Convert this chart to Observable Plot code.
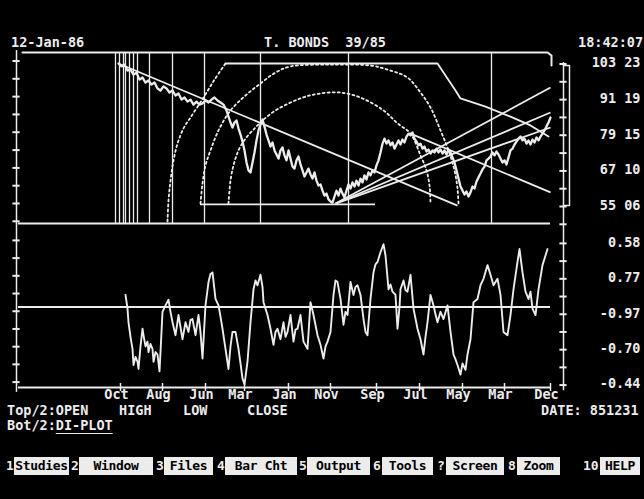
<!DOCTYPE html>
<html><head><meta charset="utf-8">
<script src="https://cdn.jsdelivr.net/npm/d3@7"></script>
<script src="https://cdn.jsdelivr.net/npm/@observablehq/plot@0.6"></script>
<style>
html,body{margin:0;padding:0;background:#000;overflow:hidden;}
#screen{position:relative;width:644px;height:499px;background:#000;overflow:hidden;
  font-family:"DejaVu Sans Mono",monospace;font-weight:bold;color:#ececec;font-size:13.5px;}
.t{position:absolute;white-space:pre;line-height:14px;}
.n{position:absolute;white-space:pre;line-height:18px;height:18px;top:457px;font-size:13px;}
.box{position:absolute;white-space:pre;top:457px;background:#ececec;color:#000;height:18px;line-height:18px;
  font-size:13px;letter-spacing:-0.3px;text-align:center;}
.u{text-decoration:underline;text-underline-offset:3px;}
#top,#bot{position:absolute;left:0;}
#top{top:0;} #bot{top:224px;}
</style></head>
<body><div id="screen">
<div class="t" style="left:11px;top:35px">12-Jan-86</div>
<div class="t" style="left:264px;top:35px">T. BONDS  39/85</div>
<div class="t" style="left:578px;top:35px">18:42:07</div>
<div id="top"></div>
<div id="bot"></div>
<div class="t" style="left:7px;top:403px">Top/2:OPEN</div>
<div class="t" style="left:119px;top:403px">HIGH</div>
<div class="t" style="left:183px;top:403px">LOW</div>
<div class="t" style="left:247px;top:403px">CLOSE</div>
<div class="t" style="left:541px;top:403px">DATE: 851231</div>
<div class="t" style="left:7px;top:418px">Bot/2:<span class="u">DI-PLOT</span></div>
<div class="n" style="left:6px">1</div><div class="box" style="left:14px;width:55px">Studies</div>
<div class="n" style="left:71px">2</div><div class="box" style="left:79px;width:74px">Window</div>
<div class="n" style="left:156px">3</div><div class="box" style="left:164px;width:49px">Files</div>
<div class="n" style="left:217px">4</div><div class="box" style="left:225px;width:72px">Bar Cht</div>
<div class="n" style="left:299px">5</div><div class="box" style="left:307px;width:63px">Output</div>
<div class="n" style="left:373px">6</div><div class="box" style="left:382px;width:51px">Tools</div>
<div class="n" style="left:437px">?</div><div class="box" style="left:446px;width:58px">Screen</div>
<div class="n" style="left:508px">8</div><div class="box" style="left:517px;width:43px">Zoom</div>
<div class="n" style="left:583px">10</div><div class="box" style="left:600px;width:40px">HELP</div>
</div>
<script>
// ---------- data (x = trading-day index, top y = price, bottom y = DI oscillator) ----------
const price = [[52,103.9],[53.5,102.9],[55,103.5],[56.5,101.5],[58,101.8],[59.5,100.1],[61,100.8],[62.5,98.4],[64,99.1],[65.5,97.4],[67,98.1],[68.5,96.7],[70,97.4],[71.5,95.4],[73,94.7],[74.5,96.1],[76,95.4],[77.5,94.0],[79,94.7],[80.5,93.0],[82,93.7],[83.5,91.6],[85,92.3],[86.5,90.9],[88,91.6],[89.5,89.9],[91,90.9],[92.5,89.9],[94,90.3],[95.5,91.3],[97,90.6],[98.5,91.6],[100,92.3],[101.5,91.3],[103,90.6],[104.5,89.9],[106,87.9],[107,85.8],[108,83.8],[109,82.1],[110,83.8],[111,84.5],[112,81.8],[113,79.7],[114,77.3],[115,74.3],[116,70.2],[117,67.5],[118,66.8],[119,70.2],[120,73.6],[121,77.7],[122,81.1],[123,83.1],[124,84.8],[125,82.4],[126,79.7],[127,77.7],[128,75.6],[129,77.0],[130,74.3],[131,72.9],[132,71.5],[133,74.3],[134,75.3],[135,72.6],[136,70.9],[137,74.3],[138,71.5],[139,68.8],[140,68.1],[141,70.9],[142,72.2],[143,69.5],[144,67.5],[145,65.4],[146,66.8],[147,68.1],[148,66.1],[149,64.7],[150,66.8],[151,64.0],[152,62.3],[153,62.7],[154,60.6],[155,58.9],[156,59.6],[157,57.6],[158,56.9],[159,56.5],[160,58.6],[161,60.6],[162,58.9],[163,61.3],[164,59.6],[165,58.3],[166,60.6],[167,62.7],[168,61.3],[169,63.4],[170,62.0],[171,64.0],[172,62.3],[173,64.7],[174,63.4],[175,65.8],[176,64.4],[177,66.8],[178,65.8],[179,67.5],[180,66.8],[181,69.2],[182,70.9],[183,73.6],[184,76.6],[185,78.3],[186,76.6],[187,77.7],[188,76.0],[189,77.0],[190,74.9],[191,76.3],[192,77.7],[193,76.3],[194,78.0],[195,77.0],[196,79.0],[197,80.0],[198,79.4],[199,80.4],[200,78.3],[201,77.3],[202,76.0],[203,76.6],[204,74.9],[205,75.6],[206,73.9],[207,74.6],[208,73.2],[209,74.3],[210,73.6],[211,74.9],[212,73.6],[213,74.6],[214,73.2],[215,74.3],[216,72.9],[217,74.6],[218,73.6],[219,71.9],[220,70.2],[221,67.5],[222,64.7],[223,62.0],[224,60.6],[225,59.3],[226,60.3],[227,58.6],[228,60.0],[229,62.0],[230,61.3],[231,63.7],[232,65.1],[233,66.4],[234,67.8],[235,68.8],[236,70.9],[237,71.5],[238,72.2],[239,73.6],[240,72.6],[241,73.9],[242,72.9],[243,71.5],[244,70.2],[245,70.9],[246,69.5],[247,71.9],[248,74.3],[249,74.9],[250,76.3],[251,77.3],[252,78.3],[253,79.0],[254,77.7],[255,78.3],[256,76.6],[257,77.7],[258,76.3],[259,78.0],[260,77.0],[261,78.7],[262,77.7],[263,79.0],[264,80.0],[265,81.1],[266,82.4],[267,83.8],[268,85.5]];

const diOsc = [[55.5,0.15],[56.5,-0.02],[57,-0.19],[58,-0.37],[59,-0.52],[59.5,-0.72],[60.5,-0.62],[61.5,-0.68],[62,-0.77],[63,-0.49],[64,-0.27],[64.5,-0.35],[65.5,-0.49],[66.5,-0.43],[67,-0.56],[68,-0.46],[69,-0.52],[69.5,-0.68],[70.5,-0.56],[71.5,-0.59],[72.5,-0.80],[73,-0.56],[74,-0.06],[75.5,0.02],[77,0.09],[78,-0.06],[79,-0.19],[80.5,-0.35],[82,-0.10],[83,-0.25],[84,-0.40],[85.5,-0.19],[87,-0.31],[88,-0.16],[89,-0.15],[90.5,-0.35],[92,-0.10],[93,-0.31],[94,-0.64],[95.5,0.02],[97,0.31],[98,0.41],[99,0.43],[100.5,0.10],[102,0.02],[103,-0.12],[104,-0.27],[105.5,-0.52],[107,-0.77],[108,-0.49],[109,-0.31],[110.5,-0.31],[112,-0.52],[113,-0.70],[114,-0.89],[115,-0.96],[116.5,-0.68],[118,-0.19],[119.5,0.22],[120.5,0.33],[121.5,0.27],[123,0.40],[124,0.25],[124.5,0.06],[126.5,-0.10],[128,-0.27],[129.5,-0.47],[130.5,-0.31],[131.5,-0.27],[133,-0.40],[134.5,-0.19],[135.5,-0.37],[136.5,-0.31],[138,-0.10],[139.5,-0.43],[140.5,-0.28],[141.5,-0.27],[143,-0.10],[144.5,-0.43],[146.5,-0.52],[148,0.06],[149.5,-0.10],[151.5,-0.35],[153,-0.47],[154.5,-0.64],[155.5,-0.49],[156.5,-0.43],[158,-0.31],[159.5,0.15],[160.5,0.33],[161.5,0.31],[163,0.10],[164.5,-0.22],[165.5,-0.06],[166.5,-0.10],[168,0.31],[169.5,0.15],[170.5,0.25],[171.5,0.27],[173,0.15],[174.5,-0.15],[175.5,-0.31],[176.5,-0.35],[178,0.10],[179.5,0.43],[180.5,0.53],[181.5,0.56],[183,0.68],[184.5,0.78],[185.5,0.64],[187,0.22],[188,0.28],[189,0.19],[190.5,0.15],[191.5,-0.27],[192.5,0.00],[193,0.22],[194.5,0.33],[195.5,0.21],[196.5,0.19],[198,0.40],[199.5,-0.02],[201.5,-0.27],[203,-0.40],[204.5,-0.59],[205.5,-0.37],[206.5,-0.19],[208,0.15],[209.5,0.02],[210.5,-0.09],[211.5,-0.19],[213,-0.06],[214.5,-0.15],[216.5,0.02],[218,-0.31],[219.5,-0.59],[220.5,-0.65],[221.5,-0.72],[223,-0.84],[224,-0.70],[225.5,-0.78],[226.5,-0.59],[228,-0.40],[229.5,0.06],[231.5,0.10],[233,0.27],[234.5,0.35],[236.5,0.52],[238,0.40],[239.5,0.27],[241.5,0.35],[243,0.15],[244.5,-0.31],[246.5,-0.35],[248,-0.10],[249.5,0.22],[251.5,0.56],[252.5,0.72],[254,0.43],[255.5,0.19],[257,0.10],[258,0.19],[259,-0.02],[260.5,-0.10],[262,0.22],[264,0.52],[265.5,0.64],[266.5,0.72]];

// month ticks on the bottom axis (labels as shown on screen)
const monthTickDays = [53, 74, 95.5, 115, 137, 158, 181, 202.5, 224, 245, 268];
const monthLabels = ["Oct","Aug","Jun","Mar","Jan","Nov","Sep","Jul","May","Mar","Dec"];

// right axis: price ticks & labels (32nds), oscillator ticks & labels
const priceTicks = [103.72, 97.66, 91.59, 85.53, 79.47, 73.38, 67.31, 61.25, 55.19, 49.13];
const priceLabelValues = [103.72, 91.59, 79.47, 67.31, 55.19];
const priceLabels = ["103 23", "91 19", "79 15", "67 10", "55 06"];
const oscTicks = [0.79, 0.57, 0.35, 0.13, -0.09, -0.31, -0.53, -0.75, -0.97];
const oscLabelValues = [0.79, 0.35, -0.09, -0.53, -0.97];
const oscLabels = ["0.58", "0.77", "-0.97", "-0.70", "-0.44"];

// drawing-tool annotations on the price panel
const markerDays = [50.5, 52.5, 54.5, 55.5, 57.5, 59.5, 61.5, 67.5, 79, 95, 123, 167, 238.5];
const trendLines = [
  [52, 103.9, 221.5, 55.5],   // main down trend from the high
  [198, 80.0, 268, 60.0],     // parallel down line from the secondary high
  [160.5, 56.2, 268, 95.7],   // fan lines from the low
  [160.5, 56.2, 268, 87.2],
  [160.5, 56.2, 268, 82.1]
];
const baseLine = {price: 55.9, from: 93, to: 180.5};
const arcA = [[76.5,50.1],[77,57.2],[78,64.0],[79.5,70.9],[81.5,76.6],[84.5,81.8],[88,85.5],[94.5,92.3],[100,98.4],[105.5,103.9]];
const channel = [[105.5,103.9],[211.5,103.9],[220.5,94.7],[223,92.0],[235.5,89.2],[248,85.8],[258,82.8],[267,79.0]];
const arcB = [[93,56.2],[94,63.0],[95.5,69.2],[98,74.3],[102,81.1],[108,87.9],[115.5,93.0],[123,97.1],[130.5,100.8],[138,102.9],[158,103.5],[178,103.2],[188,101.5],[196.5,99.1],[203,94.0],[208,88.9],[213,81.1],[217,74.3],[220,67.5],[221.5,61.3],[222,56.2]];
const arcC = [[107,56.2],[108,64.0],[109.5,69.2],[112,74.3],[115.5,78.3],[120.5,82.1],[124,84.5],[130.5,87.9],[138,90.6],[145.5,92.6],[153,93.7],[163,94.0],[173,92.3],[184.5,87.9],[191.5,83.5],[198,80.0],[203,72.6],[206,67.5],[207.5,62.3],[208,56.2]];
const frameTop = [[4,107.64],[266.5,107.64],[268.5,106.6],[268.5,103.2]];
const rangeBracket = [[274.5,103.2],[277.5,103.2],[277.5,55.5],[274.5,55.5]];

// ---------- drawing ----------
const FG = "#ececec";
const FONT = "'DejaVu Sans Mono', monospace";
const AXIS_X = 274.5, LEFT_X = 1;
const svgStyle = `background:transparent;overflow:visible;font-family:${FONT};font-weight:bold;font-size:13.5px;`;
const xScale = {domain: [0, 274.5], axis: null};
const txt = {fill: FG, fontFamily: FONT, fontWeight: "bold", fontSize: 13.5};

const topPlot = Plot.plot({
  width: 644, height: 226,
  marginLeft: 14, marginRight: 81, marginTop: 51, marginBottom: 2,
  style: svgStyle,
  x: xScale,
  y: {domain: [49.06, 107.98], axis: null},
  marks: [
    Plot.ruleX(markerDays, {y1: 49.4, y2: 107.64, stroke: FG, strokeWidth: 1.3}),
    Plot.line(frameTop, {stroke: FG, strokeWidth: 2}),
    Plot.ruleY([49.4], {x1: 2, x2: 268, stroke: FG, strokeWidth: 2}),
    Plot.ruleY([baseLine.price], {x1: baseLine.from, x2: baseLine.to, stroke: FG, strokeWidth: 1.6}),
    Plot.line(arcA, {curve: "catmull-rom", stroke: FG, strokeWidth: 1.8, strokeDasharray: "2,3"}),
    Plot.line(channel, {stroke: FG, strokeWidth: 1.8}),
    Plot.line(arcB, {curve: "catmull-rom", stroke: FG, strokeWidth: 1.8, strokeDasharray: "2,3"}),
    Plot.line(arcC, {curve: "catmull-rom", stroke: FG, strokeWidth: 1.8, strokeDasharray: "2,3"}),
    Plot.link(trendLines, {x1: d => d[0], y1: d => d[1], x2: d => d[2], y2: d => d[3], stroke: FG, strokeWidth: 1.8}),
    Plot.line(price, {stroke: FG, strokeWidth: 2.3, strokeLinejoin: "round"}),
    // right axis
    Plot.ruleX([AXIS_X], {y1: 49.06, y2: 104.2, stroke: FG, strokeWidth: 1.5}),
    Plot.ruleY(priceTicks, {x1: AXIS_X - 1.8, x2: AXIS_X + 1.8, stroke: FG, strokeWidth: 2}),
    Plot.line(rangeBracket, {stroke: FG, strokeWidth: 1.5}),
    Plot.text(priceLabelValues, {x: AXIS_X, y: d => d, text: (d, i) => priceLabels[i], textAnchor: "end", dx: 77, dy: -1, ...txt}),
    // left axis
    Plot.ruleX([LEFT_X], {y1: 49.06, y2: 108.3, stroke: FG, strokeWidth: 1.5}),
    Plot.ruleY(priceTicks, {x1: LEFT_X - 1.8, x2: LEFT_X + 1.8, dy: -3, stroke: FG, strokeWidth: 2})
  ]
});
document.getElementById("top").append(topPlot);

const botPlot = Plot.plot({
  width: 644, height: 176,
  marginLeft: 14, marginRight: 81, marginTop: 2, marginBottom: 13,
  style: svgStyle,
  x: xScale,
  y: {domain: [-1, 1], axis: null},
  marks: [
    Plot.ruleY([0], {x1: 2, x2: 268, stroke: FG, strokeWidth: 2}),
    Plot.ruleY([-1], {x1: 2, x2: 268, stroke: FG, strokeWidth: 2}),
    Plot.ruleX(monthTickDays, {y1: -1.05, y2: -0.95, stroke: FG, strokeWidth: 1.5}),
    Plot.text(monthTickDays, {x: d => d, y: -1, text: (d, i) => monthLabels[i], dy: 7, dx: -4, ...txt}),
    Plot.line(diOsc, {stroke: FG, strokeWidth: 1.9, strokeLinejoin: "round"}),
    // right axis
    Plot.ruleX([AXIS_X], {y1: 1.03, y2: -1.04, stroke: FG, strokeWidth: 1.5}),
    Plot.ruleY(oscTicks, {x1: AXIS_X - 1.8, x2: AXIS_X + 1.8, stroke: FG, strokeWidth: 2}),
    Plot.text(oscLabelValues, {x: AXIS_X, y: d => d, text: (d, i) => oscLabels[i], textAnchor: "end", dx: 77, dy: -1, ...txt}),
    // left axis
    Plot.ruleX([LEFT_X], {y1: 1.03, y2: -1.06, stroke: FG, strokeWidth: 1.5}),
    Plot.ruleY(oscTicks, {x1: LEFT_X - 1.8, x2: LEFT_X + 1.8, dy: -3, stroke: FG, strokeWidth: 2})
  ]
});
document.getElementById("bot").append(botPlot);
</script>
</body></html>
